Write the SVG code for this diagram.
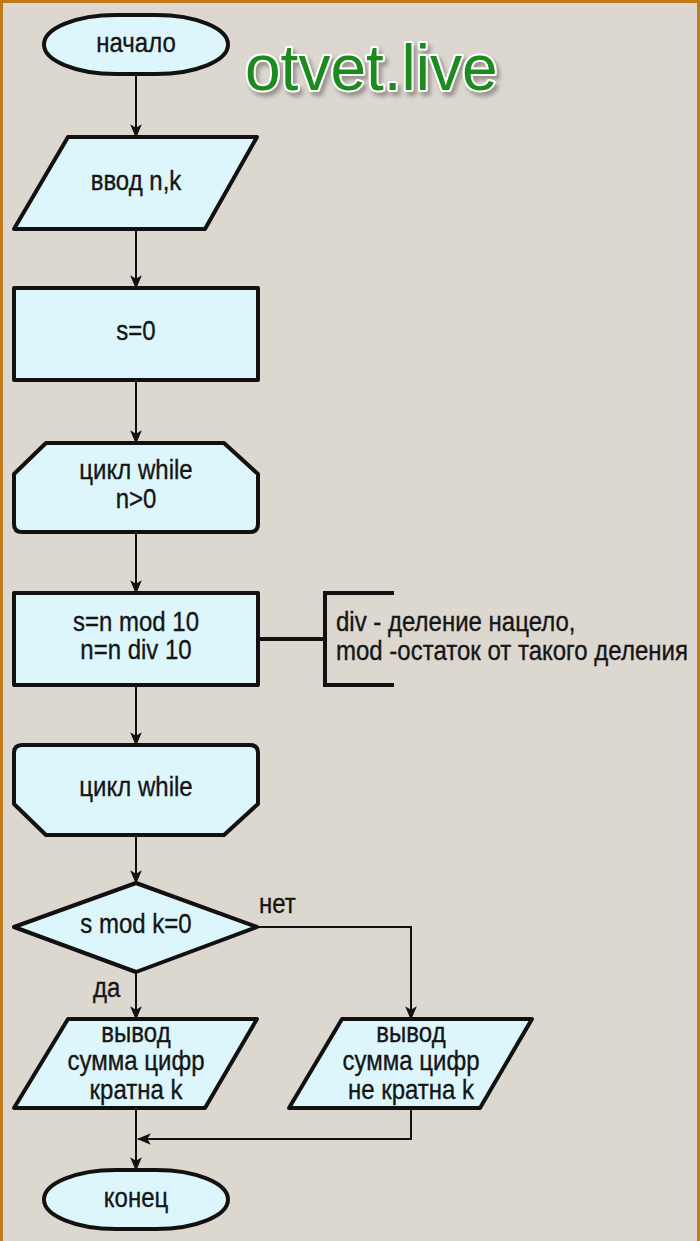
<svg xmlns="http://www.w3.org/2000/svg" width="700" height="1241" viewBox="0 0 700 1241">
<defs>
<marker id="ah" viewBox="0 0 12 12" refX="11" refY="6" markerWidth="14" markerHeight="14" markerUnits="userSpaceOnUse" orient="auto">
<path d="M0,1 L12,6 L0,11 L3,6 Z" fill="#111"/>
</marker>
<filter id="sh" x="-10%" y="-30%" width="130%" height="160%">
<feDropShadow dx="3" dy="4" stdDeviation="2" flood-color="#7a776f" flood-opacity="0.7"/>
</filter>
<style>
.shape{fill:#ddf6fb;stroke:#111;stroke-width:4;stroke-linejoin:round}
.t{font-family:"Liberation Sans",Arial,sans-serif;font-size:24px;fill:#151515;text-anchor:middle;stroke:#151515;stroke-width:0.3}
.tl{font-family:"Liberation Sans",Arial,sans-serif;font-size:24px;fill:#151515;stroke:#151515;stroke-width:0.3}
.c{fill:none;stroke:#111;stroke-width:2}
.b{fill:none;stroke:#111;stroke-width:4}
</style>
</defs>
<rect x="0" y="0" width="700" height="1241" fill="#dcd7cf"/>
<path d="M1.5,1241 V1.5 H698.5 V1241" fill="none" stroke="#c07a1a" stroke-width="3"/>
<g id="watermark">
<text x="245" y="90" font-family="Liberation Sans,Arial,sans-serif" font-size="64" fill="#1e8a1e" stroke="#ffffff" stroke-width="4" paint-order="stroke" stroke-linejoin="round" filter="url(#sh)">otvet.live</text>
</g>
<g id="connectors">
<line class="c" x1="136" y1="74" x2="136" y2="137" marker-end="url(#ah)"/>
<line class="c" x1="136" y1="229" x2="136" y2="288" marker-end="url(#ah)"/>
<line class="c" x1="136" y1="380" x2="136" y2="443" marker-end="url(#ah)"/>
<line class="c" x1="136" y1="532" x2="136" y2="593" marker-end="url(#ah)"/>
<line class="b" x1="258" y1="639" x2="325" y2="639"/>
<line class="c" x1="136" y1="685" x2="136" y2="745" marker-end="url(#ah)"/>
<line class="c" x1="136" y1="835" x2="136" y2="883" marker-end="url(#ah)"/>
<polyline class="c" points="258,927 411,927 411,1019" marker-end="url(#ah)"/>
<line class="c" x1="136" y1="972" x2="136" y2="1019" marker-end="url(#ah)"/>
<polyline class="c" points="411,1108 411,1139 138,1139" marker-end="url(#ah)"/>
<line class="c" x1="136" y1="1108" x2="136" y2="1170" marker-end="url(#ah)"/>
</g>
<g id="start">
<rect class="shape" x="44" y="15" width="184" height="59" rx="72" ry="29.5"/>
<text class="t" transform="translate(136,52) scale(1,1.15)">начало</text>
</g>
<g id="input">
<path class="shape" d="M68,137 H257 L205,229 H14 Z"/>
<text class="t" transform="translate(136,190) scale(1,1.15)">ввод n,k</text>
</g>
<g id="init">
<rect class="shape" x="14" y="288" width="244" height="92"/>
<text class="t" transform="translate(136,340) scale(1,1.15)">s=0</text>
</g>
<g id="loopstart">
<path class="shape" d="M46,443 H224 L258,474 V524 Q258,532 250,532 H22 Q14,532 14,524 V474 Z"/>
<text class="t" transform="translate(136,479) scale(1,1.15)">цикл while</text>
<text class="t" transform="translate(136,508) scale(1,1.15)">n&gt;0</text>
</g>
<g id="body">
<rect class="shape" x="14" y="593" width="244" height="92"/>
<text class="t" transform="translate(136,631) scale(1,1.15)">s=n mod 10</text>
<text class="t" transform="translate(136,659) scale(1,1.15)">n=n div 10</text>
</g>
<g id="comment">
<polyline class="b" points="394,593 325,593 325,685 394,685"/>
<text class="tl" transform="translate(336,631) scale(1,1.15)">div - деление нацело,</text>
<text class="tl" transform="translate(336,660) scale(1,1.15)">mod -остаток от такого деления</text>
</g>
<g id="loopend">
<path class="shape" d="M22,745 H250 Q258,745 258,753 V804 L224,835 H46 L14,804 V753 Q14,745 22,745 Z"/>
<text class="t" transform="translate(136,796) scale(1,1.15)">цикл while</text>
</g>
<g id="decision">
<path class="shape" d="M136,883 L257,927 L136,972 L14,927 Z"/>
<text class="t" transform="translate(136,933) scale(1,1.15)">s mod k=0</text>
<text class="tl" transform="translate(259,913) scale(1,1.15)">нет</text>
<text class="tl" transform="translate(93,997) scale(1,1.15)">да</text>
</g>
<g id="outyes">
<path class="shape" d="M68,1019 H257 L205,1108 H14 Z"/>
<text class="t" transform="translate(136,1042) scale(1,1.15)">вывод</text>
<text class="t" transform="translate(136,1070) scale(1,1.15)">сумма цифр</text>
<text class="t" transform="translate(136,1099) scale(1,1.15)">кратна k</text>
</g>
<g id="outno">
<path class="shape" d="M342,1019 H532 L480,1108 H289 Z"/>
<text class="t" transform="translate(411,1042) scale(1,1.15)">вывод</text>
<text class="t" transform="translate(411,1070) scale(1,1.15)">сумма цифр</text>
<text class="t" transform="translate(411,1099) scale(1,1.15)">не кратна k</text>
</g>
<g id="end">
<rect class="shape" x="44" y="1170" width="184" height="59" rx="72" ry="29.5"/>
<text class="t" transform="translate(136,1207) scale(1,1.15)">конец</text>
</g>
</svg>
